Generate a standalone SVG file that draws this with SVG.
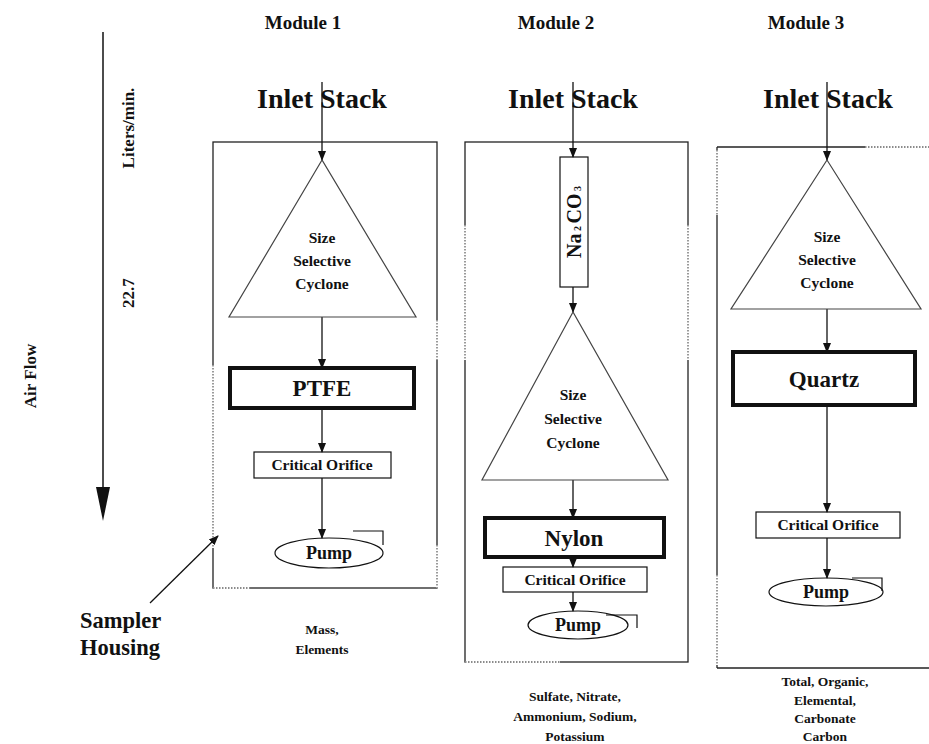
<svg xmlns="http://www.w3.org/2000/svg" width="929" height="744" viewBox="0 0 929 744">
<style>
text{font-weight:bold;fill:#111;text-anchor:middle}
.mod{font-size:19px}
.inlet{font-size:28px}
.cyc{font-size:15.5px}
.filt{font-size:23px}
.orf{font-size:15.5px}
.pump{font-size:18px}
.note{font-size:13.5px}
.side{font-size:17px}
.sh{font-size:22.5px;text-anchor:start}
.box{fill:none;stroke:#111;stroke-width:1.2}
.thick{fill:#fff;stroke:#111;stroke-width:4}
.tri{fill:#fff;stroke:#444;stroke-width:1.2}
.house{fill:none;stroke:#222;stroke-width:1.3}
.dot{fill:none;stroke:#666;stroke-width:1.3;stroke-dasharray:1.5 1.5}
.wh{stroke:#fff;stroke-width:2}
.conn line,.conn path{stroke:#111;stroke-width:1.3;fill:none}
</style>
<defs>
<marker id="ah" markerWidth="10" markerHeight="12" refX="9" refY="5" orient="auto" markerUnits="userSpaceOnUse" viewBox="0 0 10 10">
<path d="M0,1 L10,5 L0,9 Z" fill="#111"/>
</marker>
</defs>
<g font-family="'Liberation Serif', 'DejaVu Serif', serif">

<g id="headings">
<text class="mod" x="303" y="29">Module 1</text>
<text class="mod" x="556" y="29">Module 2</text>
<text class="mod" x="806" y="29">Module 3</text>
</g>

<g id="airflow">
<line x1="103" y1="32" x2="103" y2="490" stroke="#111" stroke-width="1.5"/>
<polygon points="96,487 110,487 103,521" fill="#111"/>
<text class="side" transform="translate(36,376) rotate(-90)">Air Flow</text>
<text class="side" transform="translate(134,128) rotate(-90)">Liters/min.</text>
<text class="side" transform="translate(134,293) rotate(-90)">22.7</text>
</g>

<g id="sampler-housing-label">
<text class="sh" x="80" y="628">Sampler</text>
<text class="sh" x="80" y="655">Housing</text>
</g>

<g id="housing1">
<rect class="house" x="213" y="142" width="224" height="446"/>
<line class="wh" x1="213" y1="365" x2="213" y2="548"/>
<line class="dot" x1="213" y1="365" x2="213" y2="548"/>
<line class="wh" x1="213" y1="588" x2="250" y2="588"/>
<line class="dot" x1="213" y1="588" x2="250" y2="588"/>
<line class="wh" x1="437" y1="320" x2="437" y2="360"/>
<line class="dot" x1="437" y1="320" x2="437" y2="360"/>
<line class="wh" x1="437" y1="545" x2="437" y2="588"/>
<line class="dot" x1="437" y1="545" x2="437" y2="588"/>
</g>
<g id="housing2">
<rect class="house" x="465" y="142" width="223" height="520"/>
<line class="wh" x1="465" y1="225" x2="465" y2="360"/>
<line class="dot" x1="465" y1="225" x2="465" y2="360"/>
<line class="wh" x1="688" y1="225" x2="688" y2="360"/>
<line class="dot" x1="688" y1="225" x2="688" y2="360"/>
<line class="wh" x1="465" y1="662" x2="560" y2="662"/>
<line class="dot" x1="465" y1="662" x2="560" y2="662"/>
</g>
<g id="housing3">
<line class="house" x1="717" y1="147" x2="929" y2="147"/>
<line class="house" x1="717" y1="147" x2="717" y2="668"/>
<line class="house" x1="717" y1="668" x2="929" y2="668"/>
<line class="wh" x1="717" y1="150" x2="717" y2="215"/>
<line class="dot" x1="717" y1="150" x2="717" y2="215"/>
<line class="wh" x1="717" y1="575" x2="717" y2="665"/>
<line class="dot" x1="717" y1="575" x2="717" y2="665"/>
<line class="wh" x1="865" y1="147" x2="929" y2="147"/>
<line class="dot" x1="865" y1="147" x2="929" y2="147"/>
</g>

<g id="connectors" class="conn">
<line x1="322" y1="82" x2="322" y2="160" marker-end="url(#ah)"/>
<line x1="322" y1="317" x2="322" y2="368" marker-end="url(#ah)"/>
<line x1="322" y1="408" x2="322" y2="452" marker-end="url(#ah)"/>
<line x1="322" y1="478" x2="322" y2="538" marker-end="url(#ah)"/>
<line x1="573" y1="82" x2="573" y2="157" marker-end="url(#ah)"/>
<line x1="573" y1="287" x2="573" y2="312" marker-end="url(#ah)"/>
<line x1="573" y1="480" x2="573" y2="518" marker-end="url(#ah)"/>
<line x1="573" y1="557" x2="573" y2="567" marker-end="url(#ah)"/>
<line x1="573" y1="592" x2="573" y2="611" marker-end="url(#ah)"/>
<line x1="827" y1="82" x2="827" y2="160" marker-end="url(#ah)"/>
<line x1="827" y1="309" x2="827" y2="352" marker-end="url(#ah)"/>
<line x1="827" y1="405" x2="827" y2="512" marker-end="url(#ah)"/>
<line x1="827" y1="538" x2="827" y2="578" marker-end="url(#ah)"/>
<line x1="150" y1="603" x2="218" y2="536" marker-end="url(#ah)"/>
</g>

<g id="inlet1"><text class="inlet" x="322" y="108">Inlet Stack</text></g>
<g id="cyclone1">
<polygon class="tri" points="322,160 229,317 416,317"/>
<text class="cyc" x="322" y="243">Size</text>
<text class="cyc" x="322" y="266">Selective</text>
<text class="cyc" x="322" y="289">Cyclone</text>
</g>
<g id="ptfe"><rect class="thick" x="230" y="368" width="184" height="40"/><text class="filt" x="322" y="396">PTFE</text></g>
<g id="orifice1"><rect class="box" x="254" y="452" width="137" height="26"/><text class="orf" x="322" y="470">Critical Orifice</text></g>
<g id="pump1">
<path class="box" d="M353,531 H383 V545"/>
<ellipse class="box" cx="329" cy="553" rx="54" ry="15"/>
<text class="pump" x="329" y="559">Pump</text>
</g>
<g id="out1">
<text class="note" x="322" y="634">Mass,</text>
<text class="note" x="322" y="654">Elements</text>
</g>

<g id="inlet2"><text class="inlet" x="573" y="108">Inlet Stack</text></g>
<g id="na2co3">
<rect class="box" x="560" y="157" width="28" height="130"/>
<text transform="translate(581,222) rotate(-90)" style="font-size:20px">Na<tspan style="font-size:10px"> 2 </tspan>CO<tspan style="font-size:10px"> 3</tspan></text>
</g>
<g id="cyclone2">
<polygon class="tri" points="573,312 482,480 668,480"/>
<text class="cyc" x="573" y="400">Size</text>
<text class="cyc" x="573" y="424">Selective</text>
<text class="cyc" x="573" y="448">Cyclone</text>
</g>
<g id="nylon"><rect class="thick" x="485" y="518" width="179" height="39"/><text class="filt" x="574" y="546">Nylon</text></g>
<g id="orifice2"><rect class="box" x="503" y="567" width="144" height="25"/><text class="orf" x="575" y="585">Critical Orifice</text></g>
<g id="pump2">
<path class="box" d="M606,615 H637 V628"/>
<ellipse class="box" cx="578" cy="625" rx="50" ry="14"/>
<text class="pump" x="578" y="631">Pump</text>
</g>
<g id="out2">
<text class="note" x="575" y="701">Sulfate, Nitrate,</text>
<text class="note" x="575" y="721">Ammonium, Sodium,</text>
<text class="note" x="575" y="741">Potassium</text>
</g>

<g id="inlet3"><text class="inlet" x="828" y="108">Inlet Stack</text></g>
<g id="cyclone3">
<polygon class="tri" points="827,160 731,309 921,309"/>
<text class="cyc" x="827" y="242">Size</text>
<text class="cyc" x="827" y="265">Selective</text>
<text class="cyc" x="827" y="288">Cyclone</text>
</g>
<g id="quartz"><rect class="thick" x="733" y="352" width="182" height="53"/><text class="filt" x="824" y="387">Quartz</text></g>
<g id="orifice3"><rect class="box" x="756" y="512" width="144" height="26"/><text class="orf" x="828" y="530">Critical Orifice</text></g>
<g id="pump3">
<path class="box" d="M852,578 H882 V591"/>
<ellipse class="box" cx="826" cy="592" rx="57" ry="14"/>
<text class="pump" x="826" y="598">Pump</text>
</g>
<g id="out3">
<text class="note" x="825" y="686">Total, Organic,</text>
<text class="note" x="825" y="705">Elemental,</text>
<text class="note" x="825" y="723">Carbonate</text>
<text class="note" x="825" y="741">Carbon</text>
</g>
</g>
</svg>
